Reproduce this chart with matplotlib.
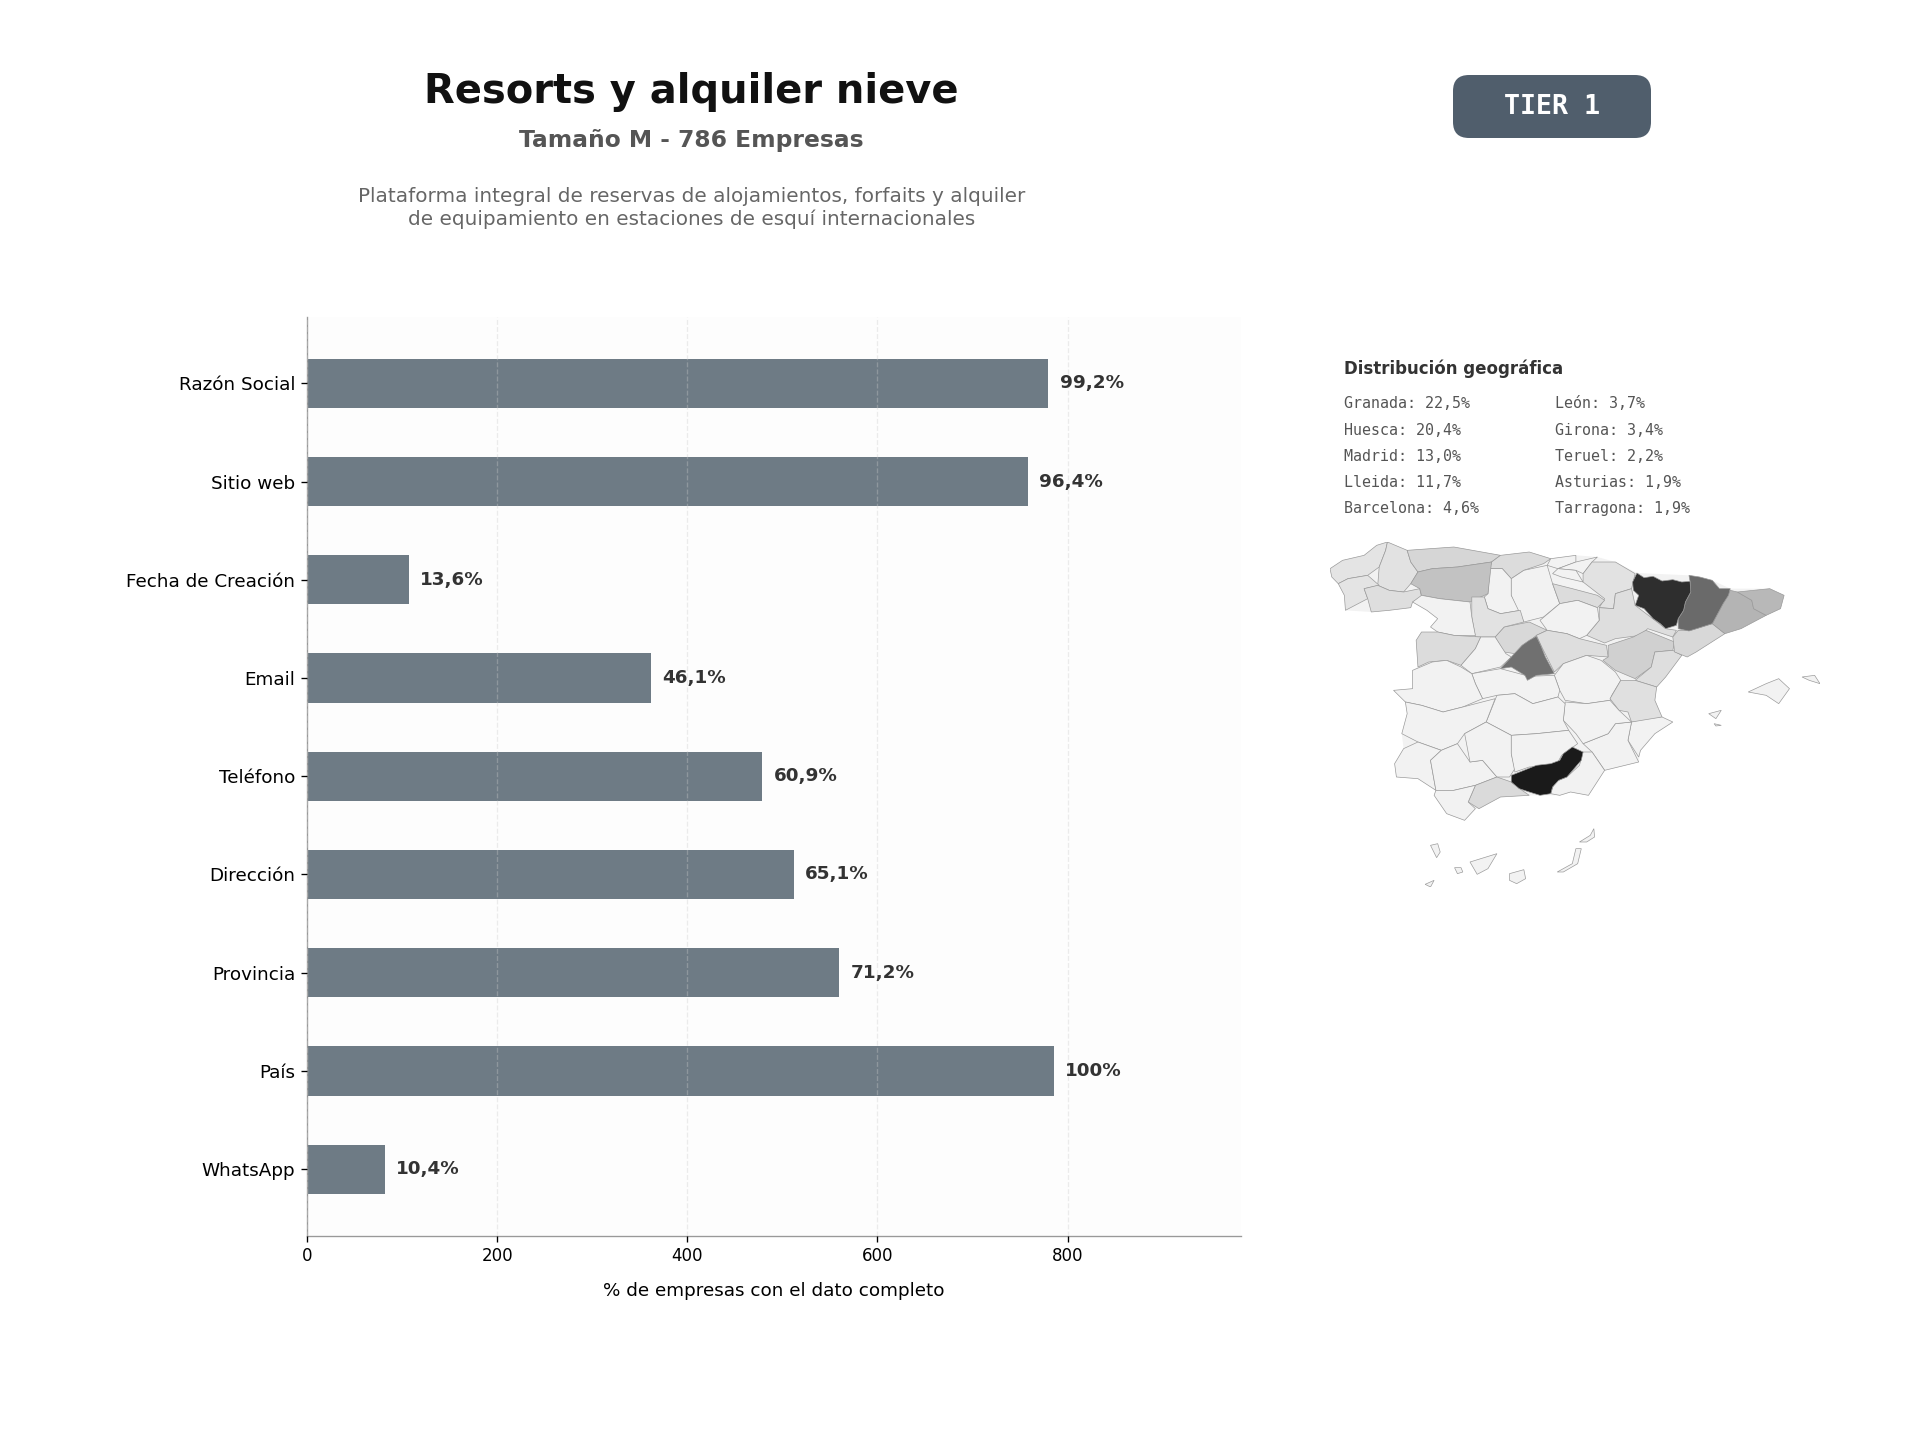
"""
Ficha de sector: completitud de datos (barras) y distribucion geografica (mapa).
"""

import matplotlib
matplotlib.use("Agg")
import matplotlib.pyplot as plt
from matplotlib.patches import FancyBboxPatch, Polygon

# barras
campos = ["Razón Social", "Sitio web", "Fecha de Creación", "Email", "Teléfono",
          "Dirección", "Provincia", "País", "WhatsApp"]
empresas = [780, 758, 107, 362, 479, 512, 560, 786, 82]
etiquetas = ["99,2%", "96,4%", "13,6%", "46,1%", "60,9%", "65,1%", "71,2%", "100%", "10,4%"]
total_empresas = 786

# lista de provincias
provincias_col1 = ["Granada: 22,5%", "Huesca: 20,4%", "Madrid: 13,0%", "Lleida: 11,7%", "Barcelona: 4,6%"]
provincias_col2 = ["León: 3,7%", "Girona: 3,4%", "Teruel: 2,2%", "Asturias: 1,9%", "Tarragona: 1,9%"]

# mapa: tono de gris y contorno aproximado de cada provincia
claro = "#f2f2f2"
tonos = {
    "A Coruña": "#e4e4e4", "Lugo": "#e2e2e2", "Pontevedra": "#e4e4e4", "Ourense": "#dedede",
    "Asturias": "#d6d6d6", "Cantabria": "#dcdcdc", "León": "#c2c2c2", "Palencia": claro,
    "Burgos": claro, "Bizkaia": claro, "Gipuzkoa": claro, "Araba": claro,
    "Navarra": "#e2e2e2", "La Rioja": "#dcdcdc", "Zaragoza": "#dedede", "Soria": claro,
    "Segovia": "#d8d8d8", "Valladolid": "#e2e2e2", "Zamora": claro, "Salamanca": "#dcdcdc",
    "Ávila": claro, "Guadalajara": "#dedede", "Cuenca": claro, "Teruel": "#d0d0d0",
    "Castellón": "#dedede", "Valencia": "#e0e0e0", "Tarragona": "#d8d8d8", "Alicante": claro,
    "Murcia": claro, "Albacete": claro, "Toledo": claro, "Ciudad Real": claro,
    "Cáceres": claro, "Badajoz": claro, "Huelva": claro, "Sevilla": claro,
    "Córdoba": claro, "Jaén": claro, "Almería": claro, "Málaga": "#dadada", "Cádiz": claro,
    "Barcelona": "#b4b4b4", "Girona": "#b8b8b8", "Lleida": "#6a6a6a", "Madrid": "#707070",
    "Huesca": "#2e2e2e", "Granada": "#1a1a1a",
    "Mallorca": claro, "Menorca": claro, "Ibiza": claro, "Formentera": claro,
    "La Palma": claro, "Tenerife": claro, "La Gomera": claro, "Gran Canaria": claro,
    "El Hierro": claro, "Fuerteventura": claro, "Lanzarote": claro,
}
peninsula = [(85, 145), (120, 120), (180, 105), (215, 75), (245, 65), (300, 90), (430, 80), (560, 105), (640, 95),
             (700, 115), (770, 105), (830, 110), (880, 125), (940, 158), (1085, 165), (1150, 180), (1200, 205),
             (1310, 205), (1350, 225), (1340, 265), (1300, 285), (1230, 325), (1185, 340), (1105, 395), (1065, 405),
             (1020, 470), (995, 500), (990, 540), (1010, 590), (1040, 605), (990, 640), (950, 690), (945, 725),
             (850, 750), (805, 825), (755, 815), (725, 825), (670, 825), (640, 825), (560, 830), (500, 865),
             (490, 865), (460, 900), (410, 880), (375, 825), (380, 810), (330, 775), (270, 770), (265, 730),
             (290, 685), (285, 640), (300, 580), (295, 545), (262, 510), (315, 505), (315, 450), (330, 440),
             (325, 360), (340, 335), (385, 335), (365, 320), (385, 295), (355, 270), (315, 245), (310, 262),
             (250, 270), (200, 275), (128, 270), (125, 225), (108, 190), (90, 170)]
contornos = {
    "A Coruña": [(85, 145), (120, 120), (180, 105), (215, 75), (245, 65), (240, 90), (222, 140), (190, 165), (135, 175), (108, 190), (90, 170)],
    "Lugo": [(245, 65), (300, 90), (310, 125), (330, 155), (310, 190), (290, 215), (250, 210), (218, 195), (222, 140), (240, 90)],
    "Pontevedra": [(108, 190), (135, 175), (190, 165), (222, 195), (180, 205), (190, 235), (128, 270), (125, 225)],
    "Ourense": [(180, 205), (218, 195), (250, 210), (290, 215), (335, 205), (340, 230), (315, 245), (310, 262), (250, 270), (200, 275), (190, 235)],
    "Asturias": [(300, 90), (430, 80), (560, 105), (535, 125), (440, 140), (370, 145), (330, 155), (310, 125)],
    "Cantabria": [(560, 105), (640, 95), (700, 115), (680, 130), (625, 150), (590, 175), (565, 145), (530, 145), (535, 125)],
    "Palencia": [(530, 145), (565, 145), (590, 175), (590, 225), (615, 270), (560, 280), (525, 265), (515, 230), (525, 220)],
    "León": [(330, 155), (370, 145), (440, 140), (535, 125), (525, 220), (475, 245), (390, 235), (340, 225), (335, 205), (310, 190)],
    "Burgos": [(590, 175), (625, 150), (690, 135), (705, 190), (725, 250), (680, 290), (625, 305), (610, 270), (590, 225)],
    "Bizkaia": [(700, 115), (770, 105), (770, 125), (720, 145), (690, 135)],
    "Gipuzkoa": [(770, 125), (830, 110), (815, 125), (790, 160), (770, 150), (720, 145)],
    "Araba": [(720, 145), (770, 150), (790, 185), (730, 170), (705, 160)],
    "Navarra": [(815, 125), (880, 125), (935, 160), (925, 205), (880, 220), (875, 265), (835, 262), (850, 235), (790, 185), (790, 160)],
    "La Rioja": [(705, 190), (760, 205), (830, 225), (850, 240), (830, 262), (775, 240), (725, 250)],
    "Zaragoza": [(880, 220), (925, 205), (935, 255), (990, 300), (1020, 325), (1050, 330), (1040, 350), (970, 325), (950, 345), (880, 355), (850, 368), (800, 345), (835, 300), (835, 262), (875, 265)],
    "Soria": [(725, 250), (775, 240), (830, 262), (835, 300), (800, 345), (780, 355), (745, 340), (690, 330), (670, 300)],
    "Segovia": [(545, 350), (570, 320), (640, 305), (690, 330), (660, 345), (600, 400), (570, 395)],
    "Valladolid": [(480, 230), (515, 230), (525, 265), (560, 280), (615, 270), (625, 305), (570, 320), (545, 350), (490, 350), (480, 290)],
    "Zamora": [(315, 245), (340, 225), (390, 235), (475, 245), (480, 290), (490, 345), (430, 345), (385, 335), (365, 320), (385, 295), (355, 270)],
    "Salamanca": [(340, 335), (385, 335), (430, 345), (505, 350), (490, 385), (450, 435), (410, 420), (360, 425), (330, 440), (325, 360)],
    "Ávila": [(505, 350), (545, 350), (575, 400), (590, 410), (560, 440), (480, 460), (450, 435), (490, 385)],
    "Guadalajara": [(690, 330), (745, 340), (780, 355), (855, 375), (860, 410), (800, 405), (735, 430), (710, 455), (675, 380), (660, 345)],
    "Cuenca": [(735, 430), (800, 405), (840, 420), (880, 455), (895, 480), (870, 525), (865, 540), (800, 550), (740, 540), (725, 510), (710, 465)],
    "Teruel": [(860, 375), (930, 350), (965, 330), (1045, 365), (1040, 390), (990, 395), (980, 440), (935, 475), (880, 450), (845, 420), (860, 410)],
    "Castellón": [(990, 395), (1040, 390), (1065, 405), (1020, 470), (995, 500), (935, 480), (980, 440)],
    "Valencia": [(895, 480), (935, 480), (995, 500), (990, 540), (1010, 590), (960, 605), (925, 605), (915, 575), (890, 570), (865, 535)],
    "Tarragona": [(1055, 330), (1090, 330), (1150, 310), (1185, 340), (1105, 395), (1080, 410), (1045, 395), (1040, 350)],
    "Alicante": [(925, 605), (1010, 590), (1040, 605), (990, 640), (950, 690), (945, 710), (915, 660)],
    "Murcia": [(880, 610), (925, 605), (915, 660), (945, 725), (850, 750), (815, 695), (790, 670), (860, 640)],
    "Albacete": [(740, 545), (800, 550), (865, 540), (890, 570), (925, 605), (880, 610), (860, 640), (790, 670), (770, 640), (735, 600)],
    "Toledo": [(480, 460), (560, 445), (640, 468), (710, 465), (725, 510), (720, 530), (650, 550), (600, 520), (550, 525), (510, 535), (490, 490)],
    "Ciudad Real": [(550, 525), (600, 520), (650, 550), (720, 530), (740, 550), (735, 600), (750, 630), (660, 640), (590, 645), (520, 605)],
    "Cáceres": [(315, 450), (370, 425), (410, 420), (450, 440), (480, 460), (490, 490), (510, 535), (455, 560), (400, 575), (340, 555), (295, 545), (262, 510), (315, 505)],
    "Badajoz": [(295, 545), (340, 555), (400, 575), (455, 560), (545, 535), (520, 605), (460, 640), (440, 670), (395, 690), (330, 665), (285, 640), (300, 580)],
    "Huelva": [(290, 685), (330, 665), (395, 690), (365, 720), (380, 810), (330, 775), (270, 770), (265, 730)],
    "Sevilla": [(395, 690), (440, 670), (475, 725), (510, 720), (550, 770), (490, 795), (430, 810), (380, 810), (365, 720)],
    "Córdoba": [(460, 640), (520, 605), (590, 645), (590, 700), (600, 745), (585, 770), (550, 770), (510, 720), (475, 725)],
    "Jaén": [(590, 645), (660, 640), (750, 630), (775, 670), (730, 705), (715, 735), (640, 740), (600, 755), (590, 700)],
    "Almería": [(790, 695), (815, 695), (850, 750), (805, 825), (755, 815), (725, 825), (700, 820), (710, 785), (745, 770), (780, 735)],
    "Málaga": [(490, 795), (550, 770), (590, 785), (620, 810), (640, 825), (560, 830), (500, 865), (470, 845)],
    "Cádiz": [(380, 810), (430, 810), (490, 795), (470, 845), (490, 865), (460, 900), (410, 880), (375, 825)],
    "Barcelona": [(1200, 210), (1220, 215), (1260, 240), (1265, 265), (1300, 285), (1230, 325), (1185, 340), (1150, 310), (1165, 280), (1180, 250)],
    "Girona": [(1220, 215), (1310, 205), (1350, 225), (1340, 265), (1300, 285), (1265, 265), (1260, 240)],
    "Lleida": [(1085, 165), (1115, 170), (1150, 180), (1170, 205), (1200, 205), (1195, 225), (1180, 250), (1165, 280), (1150, 310), (1115, 322), (1085, 332), (1055, 325), (1055, 295), (1070, 270), (1075, 245), (1090, 215), (1088, 183)],
    "Madrid": [(660, 348), (672, 375), (685, 410), (710, 460), (660, 465), (635, 480), (628, 465), (590, 440), (560, 445), (590, 410), (620, 375), (640, 360)],
    "Huesca": [(940, 158), (960, 172), (985, 168), (1010, 182), (1040, 178), (1065, 185), (1088, 183), (1090, 215), (1075, 245), (1070, 270), (1055, 295), (1050, 315), (1020, 325), (1005, 310), (985, 295), (960, 265), (935, 255), (945, 225), (930, 210), (928, 185)],
    "Granada": [(760, 680), (790, 695), (785, 720), (765, 745), (745, 770), (722, 780), (705, 800), (700, 820), (670, 825), (640, 815), (612, 805), (590, 785), (590, 765), (625, 750), (660, 735), (700, 730), (725, 720), (735, 700)],
    "Mallorca": [(1250, 515), (1300, 490), (1335, 475), (1365, 505), (1335, 550), (1300, 525)],
    "Menorca": [(1400, 470), (1435, 465), (1450, 490), (1420, 480)],
    "Ibiza": [(1140, 580), (1175, 570), (1160, 595)],
    "Formentera": [(1155, 610), (1175, 615), (1160, 617)],
    "La Palma": [(365, 975), (385, 970), (392, 995), (382, 1012)],
    "Tenerife": [(475, 1025), (550, 1000), (525, 1045), (495, 1062)],
    "La Gomera": [(432, 1042), (450, 1042), (455, 1055), (440, 1060)],
    "Gran Canaria": [(585, 1060), (625, 1048), (630, 1075), (605, 1090), (585, 1080)],
    "El Hierro": [(350, 1092), (375, 1080), (365, 1100)],
    "Fuerteventura": [(718, 1055), (760, 1030), (770, 985), (785, 985), (775, 1030), (735, 1055)],
    "Lanzarote": [(780, 965), (810, 945), (820, 925), (822, 950), (800, 965)],
}


def main():
    fig = plt.figure(figsize=(16, 12), dpi=120)

    # cabecera
    fig.text(691 / 1920, 1 - 92 / 1440, "Resorts y alquiler nieve", fontsize=24, fontweight="bold",
             color="#111111", ha="center", va="center")
    fig.text(691 / 1920, 1 - 141 / 1440, f"Tamaño M - {total_empresas} Empresas", fontsize=14, fontweight="bold",
             color="#555555", ha="center", va="center")
    fig.text(692 / 1920, 1 - 208 / 1440, "Plataforma integral de reservas de alojamientos, forfaits y alquiler\n"
             "de equipamiento en estaciones de esquí internacionales", fontsize=12,
             color="#666666", ha="center", va="center", linespacing=1.25)

    # insignia
    badge_ax = fig.add_axes([0, 0, 1, 1], zorder=-1)
    badge_ax.set_xlim(0, 1920)
    badge_ax.set_ylim(1440, 0)
    badge_ax.axis("off")
    badge_ax.add_patch(FancyBboxPatch((1465, 87), 174, 39, boxstyle="round,pad=12,rounding_size=16",
                                      facecolor="#505e6c", edgecolor="none"))
    fig.text(1552 / 1920, 1 - 107 / 1440, "TIER 1", fontsize=16, fontweight="bold", family="DejaVu Sans Mono",
             color="white", ha="center", va="center")

    # barras
    ax = fig.add_axes([307 / 1920, 1 - 1235.5 / 1440, 934 / 1920, 918.5 / 1440])
    ax.set_facecolor("#fdfdfd")
    ax.barh(campos, empresas, height=0.5, color="#6e7b85", zorder=2)
    ax.invert_yaxis()
    ax.set_xlim(0, total_empresas * 1.25)
    ax.grid(axis="x", linestyle="--", color="#cccccc", alpha=0.35, linewidth=0.8, zorder=3)
    ax.set_axisbelow(False)
    for spine in ["top", "right"]:
        ax.spines[spine].set_visible(False)
    for spine in ["left", "bottom"]:
        ax.spines[spine].set_color("#999999")
    ax.tick_params(axis="y", labelsize=11)
    ax.tick_params(axis="x", labelsize=10)
    ax.set_xlabel("% de empresas con el dato completo", fontsize=11, labelpad=10)
    for i, (valor, etiqueta) in enumerate(zip(empresas, etiquetas)):
        ax.text(valor + total_empresas * 0.015, i, etiqueta, fontsize=11, fontweight="bold",
                color="#333333", va="center", zorder=4)

    # lista de provincias
    fig.text(1344 / 1920, 1 - 369 / 1440, "Distribución geográfica", fontsize=10, fontweight="bold",
             color="#333333", va="center")
    for col_x, nombres in zip([1344, 1555], [provincias_col1, provincias_col2]):
        for row, nombre in enumerate(nombres):
            fig.text(col_x / 1920, 1 - (404 + row * 26.2) / 1440, nombre, fontsize=9,
                     family="DejaVu Sans Mono", color="#555555", va="center")

    # mapa
    map_ax = fig.add_axes([1330 / 1920, 1 - 887 / 1440, 490 / 1920, 345 / 1440])
    map_ax.set_xlim(85, 1450)
    map_ax.set_ylim(1100, 65)
    map_ax.axis("off")
    map_ax.add_patch(Polygon(peninsula, closed=True, facecolor=claro, edgecolor="none"))
    for nombre, contorno in contornos.items():
        map_ax.add_patch(Polygon(contorno, closed=True, facecolor=tonos[nombre],
                                 edgecolor="#999999", linewidth=0.4))

    fig.savefig("out.png", dpi=120)


if __name__ == "__main__":
    main()
